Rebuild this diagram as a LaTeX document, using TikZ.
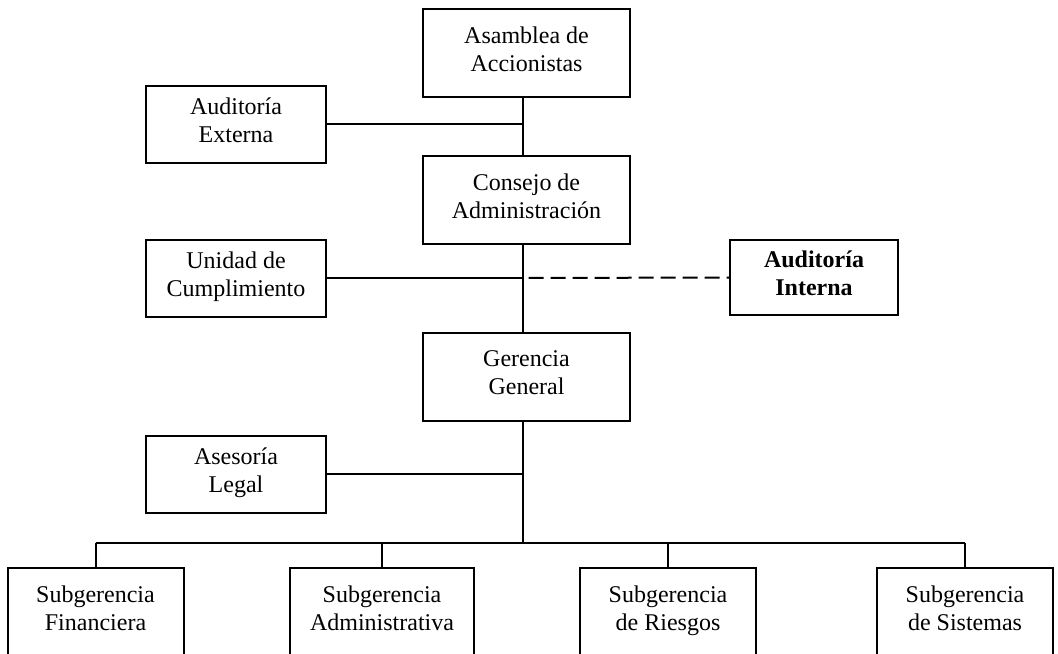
\documentclass[tikz,border=0pt]{standalone}
\usepackage{fontspec}
\setmainfont{Liberation Serif}
\usetikzlibrary{positioning}

\tikzset{
  orgtext/.style={font=\fontsize{12}{14}\selectfont, align=center, inner sep=2pt,
    execute at begin node=\strut, execute at end node=\strut},
  box/.style={draw, line width=1pt, orgtext, minimum width=103.5pt, minimum height=44pt},
  sidebox/.style={draw, line width=1pt, orgtext, minimum width=90pt, minimum height=38.5pt},
  subbox/.style={draw, line width=1pt, orgtext, minimum width=88pt, minimum height=44pt},
  link/.style={line width=1pt},
  dotted link/.style={line width=1pt, dash pattern=on 7.5pt off 3.5pt, dash phase=-3pt},
}

\begin{document}
\begin{tikzpicture}
  \useasboundingbox (0,0) rectangle (529pt,-326.5pt);
  \clip (0,0) rectangle (529pt,-326.5pt);

  % main column
  \node[box] (asam) at (263.25pt,-26.5pt) {Asamblea de\\Accionistas};
  \node[box, below=28.5pt of asam] (consejo) {Consejo de\\Administración};
  \node[box, below=43.5pt of consejo] (gerencia) {Gerencia\\General};

  % staff units
  \node[sidebox] (audext) at (118pt,-62pt) {Auditoría\\Externa};
  \node[sidebox] (unidad) at (118pt,-139pt) {Unidad de\\Cumplimiento};
  \node[sidebox] (asesoria) at (118pt,-237pt) {Asesoría\\Legal};
  \node[sidebox, minimum width=84pt, minimum height=37.5pt,
        font=\fontsize{12}{14}\selectfont\bfseries] (audint) at (407pt,-138.75pt) {Auditoría\\Interna};

  % subgerencias
  \node[subbox] (subfin) at (47.75pt,-306pt) {Subgerencia\\Financiera};
  \node[subbox, minimum width=92pt] (subadm) at (191pt,-306pt) {Subgerencia\\Administrativa};
  \node[subbox] (subrie) at (334pt,-306pt) {Subgerencia\\de Riesgos};
  \node[subbox] (subsis) at (482.5pt,-306pt) {Subgerencia\\de Sistemas};

  \coordinate (trunk) at (261.25pt,0);
  \coordinate (bus) at (261.25pt,-271.25pt);

  \draw[link] (asam.south -| trunk) -- (consejo.north -| trunk);
  \draw[link] (consejo.south -| trunk) -- (gerencia.north -| trunk);
  \draw[link] (gerencia.south -| trunk) -- (bus);
  \draw[link] (audext.east) -- (audext.east -| trunk);
  \draw[link] (unidad.east) -- (unidad.east -| trunk);
  \draw[dotted link] (unidad.east -| trunk) -- (audint.west);
  \draw[link] (asesoria.east) -- (asesoria.east -| trunk);

  \draw[link] (subfin.north |- bus) -- (subsis.north |- bus);
  \foreach \sub in {subfin,subadm,subrie,subsis}
    \draw[link] (\sub.north |- bus) -- (\sub.north);
\end{tikzpicture}
\end{document}
